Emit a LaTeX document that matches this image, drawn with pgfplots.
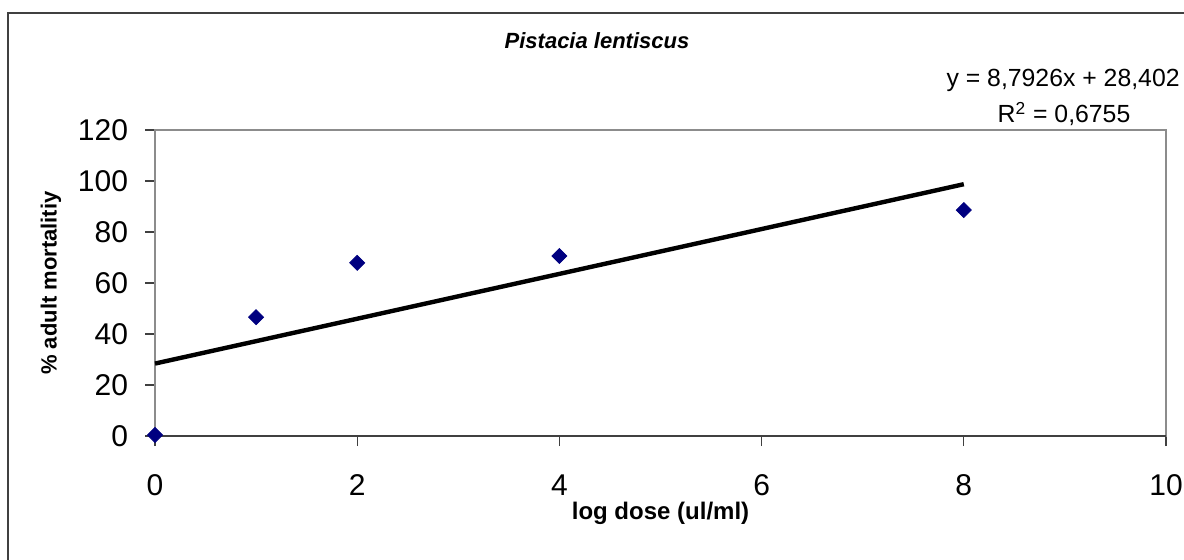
\documentclass[border=0pt]{standalone}
\usepackage{pgfplots}
\pgfplotsset{compat=1.18}
\usepackage{fontspec}
\setmainfont{Liberation Sans}
\definecolor{navy}{HTML}{000080}
\definecolor{frame}{HTML}{404040}
\definecolor{boxgray}{HTML}{8C8C8C}
\begin{document}
\begin{tikzpicture}
\useasboundingbox (0bp,0bp) rectangle (592bp,280bp);
\draw[line width=1bp, color=frame] (4bp,-20bp) -- (4bp,273.5bp) -- (620bp,273.5bp);
\node[anchor=base, font=\fontsize{11bp}{13bp}\selectfont\bfseries\itshape] at (298.5bp,255.5bp) {Pistacia lentiscus};
\node[anchor=base east, inner sep=0pt, font=\fontsize{12.4bp}{14bp}\selectfont] at (590bp,236.5bp) {y = 8,7926x + 28,402};
\node[anchor=base, inner sep=0pt, font=\fontsize{12.4bp}{14bp}\selectfont] at (532bp,218.5bp) {R\textsuperscript{2} = 0,6755};
\begin{axis}[
  at={(77.5bp,62bp)}, anchor=south west,
  scale only axis, width=505.5bp, height=153bp,
  xmin=0, xmax=10, ymin=0, ymax=120,
  xtick={0,2,4,6,8,10}, ytick={0,20,40,60,80,100,120},
  tick pos=left, tick align=outside,
  major tick length=5bp,
  every tick/.style={draw=frame, line width=0.6bp},
  axis line style={draw=boxgray, line width=0.9bp},
  ticklabel style={font=\fontsize{15bp}{18bp}\selectfont},
  xticklabel style={yshift=-11bp},
  yticklabel style={xshift=-5bp},
  /pgf/number format/assume math mode=true,
  xlabel={log dose (ul/ml)},
  ylabel={\% adult mortalitiy},
  xlabel style={at={(axis description cs:0.5,-0.2157)}, anchor=north, inner sep=0pt, font=\fontsize{12bp}{14bp}\selectfont\bfseries},
  ylabel style={at={(axis description cs:-0.103,0.5)}, anchor=center, inner sep=0pt, font=\fontsize{11bp}{13bp}\selectfont\bfseries},
  clip=false,
]
\draw[color=frame, line width=1bp] (axis cs:0,0) -- (axis cs:10,0);
\addplot[black, line width=2.2bp] coordinates {(0,28.402) (8,98.743)};
\addplot[only marks, mark=square*, mark size=2.65bp, mark options={rotate=45, fill=navy, draw=navy}] table {
x y
0 0.4
1 46.6
2 67.9
4 70.6
8 88.6
};
\end{axis}
\end{tikzpicture}
\end{document}
